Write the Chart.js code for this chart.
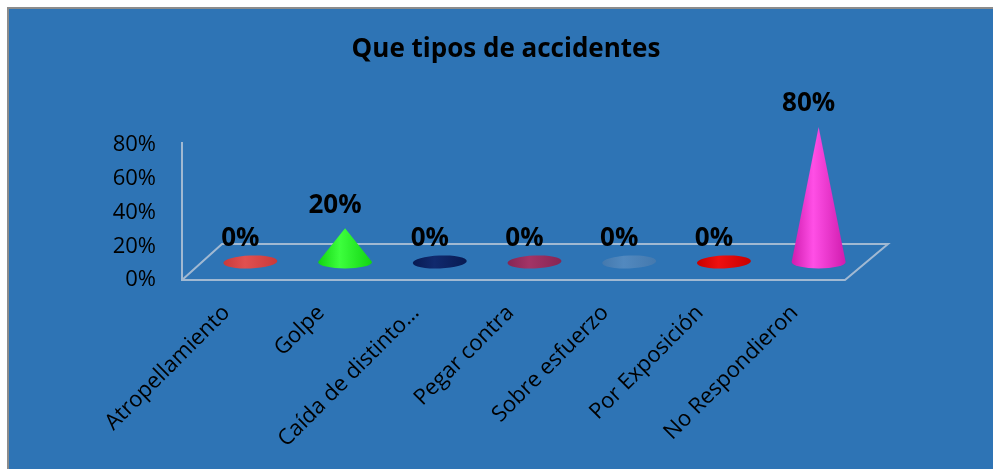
<!DOCTYPE html>
<html>
<head>
<meta charset="utf-8">
<script src="https://cdn.jsdelivr.net/npm/chart.js@4"></script>
<style>
  html, body { margin: 0; padding: 0; background: #fff; overflow: hidden; }
  #box { position: absolute; left: 7px; top: 7px; width: 1000px; height: 480px;
         background: #2E74B5; border-left: 2px solid #8c8c8c; border-top: 2px solid #8c8c8c; }
  #wrap { position: absolute; left: 0; top: 0; width: 993px; height: 469px; }
</style>
</head>
<body>
<div id="box"></div>
<div id="wrap"><canvas id="c" width="993" height="469"></canvas></div>
<script>
const title = 'Que tipos de accidentes';
const categories = ['Atropellamiento', 'Golpe', 'Caída de distinto…', 'Pegar contra', 'Sobre esfuerzo', 'Por Exposición', 'No Respondieron'];
const values = [0, 20, 0, 0, 0, 0, 80];
const yTicks = [0, 20, 40, 60, 80];
// cone colours: [edge, highlight]
const coneColors = [
  ['#c93a3a', '#e25050'],
  ['#12d412', '#3dff3d'],
  ['#081a52', '#112a6e'],
  ['#862554', '#a33466'],
  ['#4479ae', '#5289bf'],
  ['#c80000', '#ee1010'],
  ['#d01cae', '#ff4fe6'],
];

const FONT = '"Open Sans", sans-serif';
const DX = 21, DY = 18;       // half depth shift of the 3D floor
const RX = 27, RY = 6.5;      // cone base

const cones3d = {
  id: 'cones3d',
  beforeDatasetsDraw(chart) {
    const { ctx, chartArea: a } = chart;
    ctx.save();
    ctx.strokeStyle = 'rgba(200,208,220,0.75)';
    ctx.lineWidth = 2;
    ctx.beginPath();
    ctx.moveTo(a.left, a.top - 3); ctx.lineTo(a.left, a.bottom);
    ctx.lineTo(a.right, a.bottom); ctx.lineTo(a.right + 2 * DX + 1, a.bottom - 2 * DY);
    ctx.lineTo(a.left + 2 * DX - 2, a.bottom - 2 * DY); ctx.lineTo(a.left, a.bottom);
    ctx.stroke();
    ctx.restore();
  },
  afterDatasetsDraw(chart) {
    const { ctx } = chart;
    const meta = chart.getDatasetMeta(0);
    ctx.save();
    meta.data.forEach((bar, i) => {
      const cx = bar.x + DX, base = bar.base - DY, tip = bar.y - DY;
      const [edge, hi] = coneColors[i];
      const g = ctx.createLinearGradient(cx - RX, 0, cx + RX, 0);
      g.addColorStop(0, edge); g.addColorStop(0.4, hi); g.addColorStop(1, edge);
      ctx.fillStyle = g;
      ctx.beginPath();
      if (base - tip < 1) {
        ctx.ellipse(cx, base, RX, RY, -0.04, 0, Math.PI * 2);
      } else {
        ctx.moveTo(cx, tip);
        ctx.lineTo(cx - RX, base);
        ctx.ellipse(cx, base, RX, RY, 0, Math.PI, 0, true);
        ctx.closePath();
      }
      ctx.fill();
      ctx.fillStyle = '#000';
      ctx.font = 'bold 26px ' + FONT;
      ctx.textAlign = 'center';
      ctx.textBaseline = 'middle';
      ctx.fillText(values[i] + '%', cx - 10, tip - 23);
    });
    ctx.font = 'bold 26px ' + FONT;
    ctx.fillText(title, 506, 50);
    ctx.restore();
  }
};

new Chart(document.getElementById('c'), {
  type: 'bar',
  data: {
    labels: categories,
    datasets: [{ data: values, backgroundColor: 'rgba(0,0,0,0)', borderWidth: 0 }]
  },
  options: {
    responsive: false,
    animation: false,
    layout: { padding: { top: 145, right: 148, left: 0, bottom: 0 } },
    plugins: { legend: { display: false }, tooltip: { enabled: false } },
    scales: {
      x: {
        grid: { display: false, drawTicks: false }, border: { display: false },
        ticks: { color: '#000', font: { family: FONT, size: 22 }, maxRotation: 45, minRotation: 45,
                 autoSkip: false, padding: 20, labelOffset: -3 },
        afterFit(s) { s.height = 189; }
      },
      y: {
        min: yTicks[0], max: yTicks[yTicks.length - 1],
        grid: { display: false, drawTicks: false }, border: { display: false },
        afterBuildTicks(s) { s.ticks = yTicks.map(v => ({ value: v })); },
        ticks: { color: '#000', font: { family: FONT, size: 22 }, padding: 26, callback: v => v + '%' },
        afterFit(s) { s.width = 182; }
      }
    }
  },
  plugins: [cones3d]
});
</script>
</body>
</html>
